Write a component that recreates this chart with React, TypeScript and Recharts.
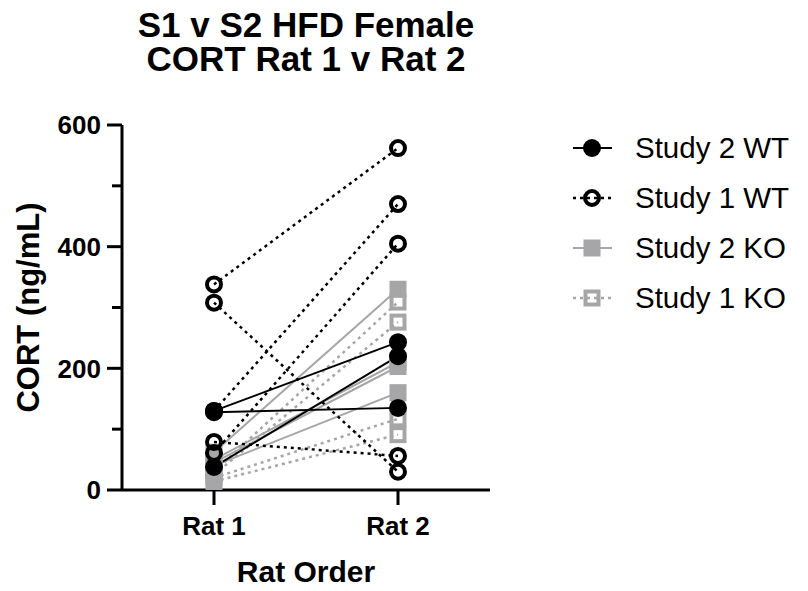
import React from "react";
import { Label, Line, LineChart, XAxis, YAxis } from "recharts";

// values (ng/mL)
const categories = ["Rat 1", "Rat 2"];

const study2WtRat1 = [130, 128, 38];
const study2WtRat2 = [243, 135, 220];

const study1WtRat1 = [338, 308, 130, 79, 61];
const study1WtRat2 = [562, 30, 470, 56, 405];

const study2KoRat1 = [62, 50, 45, 40];
const study2KoRat2 = [330, 210, 203, 160];

const study1KoRat1 = [30, 25, 20, 14];
const study1KoRat2 = [309, 276, 117, 91];

const yTicks = [0, 100, 200, 300, 400, 500, 600];

const GRAY = "#a6a6a8";
const FONT = "'Liberation Sans', Arial, Helvetica, sans-serif";

type Kind = "filledCircle" | "openCircle" | "filledSquare" | "openSquare";

type Group = {
  key: string;
  label: string;
  rat1: number[];
  rat2: number[];
  color: string;
  dash?: string;
  width: number;
  kind: Kind;
};

// draw order = z order (Study 2 WT ends on top)
const groups: Group[] = [
  { key: "s1ko", label: "Study 1 KO", rat1: study1KoRat1, rat2: study1KoRat2, color: GRAY, dash: "3 4", width: 2.5, kind: "openSquare" },
  { key: "s2ko", label: "Study 2 KO", rat1: study2KoRat1, rat2: study2KoRat2, color: GRAY, width: 2, kind: "filledSquare" },
  { key: "s1wt", label: "Study 1 WT", rat1: study1WtRat1, rat2: study1WtRat2, color: "#000", dash: "3 4", width: 2.5, kind: "openCircle" },
  { key: "s2wt", label: "Study 2 WT", rat1: study2WtRat1, rat2: study2WtRat2, color: "#000", width: 2, kind: "filledCircle" },
];

const legendOrder = ["s2wt", "s1wt", "s2ko", "s1ko"];

const rows = categories.map((name, ci) => {
  const row: Record<string, string | number> = { name };
  groups.forEach((g) => {
    const vals = ci === 0 ? g.rat1 : g.rat2;
    vals.forEach((v, i) => {
      row[`${g.key}${i}`] = v;
    });
  });
  return row;
});

function Marker({ kind, cx, cy, color }: { kind: Kind; cx: number; cy: number; color: string }) {
  if (kind === "filledCircle") return <circle cx={cx} cy={cy} r={9} fill={color} />;
  if (kind === "openCircle")
    return <circle cx={cx} cy={cy} r={7} fill="none" stroke={color} strokeWidth={4} />;
  if (kind === "filledSquare")
    return <rect x={cx - 8.5} y={cy - 8.5} width={17} height={17} fill={color} />;
  return (
    <rect x={cx - 6.5} y={cy - 6.5} width={13} height={13} fill="none" stroke={color} strokeWidth={4} />
  );
}

function YTick(props: any) {
  const { x, y, payload } = props;
  const major = payload.value % 200 === 0;
  const len = major ? 15 : 10;
  return (
    <g>
      <line x1={x - len} x2={x} y1={y} y2={y} stroke="#000" strokeWidth={3} />
      {major && (
        <text x={x - 21} y={y} dy="0.36em" textAnchor="end" fontSize={26} fontWeight="bold" fill="#000">
          {payload.value}
        </text>
      )}
    </g>
  );
}

function LegendBox() {
  return (
    <svg
      width={808}
      height={591}
      style={{ position: "absolute", left: 0, top: 0, pointerEvents: "none", fontFamily: FONT }}
    >
      {legendOrder.map((k, i) => {
        const g = groups.find((gg) => gg.key === k)!;
        const y = 148 + i * 50;
        return (
          <g key={k}>
            <line x1={573} x2={612} y1={y} y2={y} stroke={g.color} strokeWidth={g.width} strokeDasharray={g.dash} />
            <Marker kind={g.kind} cx={592} cy={y} color={g.color} />
            <text x={635} y={y + 10} fontSize={29.5} fill="#000">
              {g.label}
            </text>
          </g>
        );
      })}
    </svg>
  );
}

export default function App() {
  return (
    <div style={{ position: "absolute", left: 0, top: 0, width: 808, height: 591, background: "#fff", fontFamily: FONT }}>
      <div
        style={{
          position: "absolute",
          left: 0,
          top: 8,
          width: 612,
          textAlign: "center",
          fontSize: 35,
          lineHeight: "34px",
          fontWeight: "bold",
          color: "#000",
        }}
      >
        S1 v S2 HFD Female
        <br />
        CORT Rat 1 v Rat 2
      </div>
      <LineChart width={808} height={591} data={rows} margin={{ top: 125, right: 318, bottom: 0, left: 0 }}>
        <XAxis
          dataKey="name"
          type="category"
          padding={{ left: 92, right: 92 }}
          height={101}
          axisLine={{ stroke: "#000", strokeWidth: 3 }}
          tickLine={{ stroke: "#000", strokeWidth: 3 }}
          tickSize={15}
          tickMargin={12}
          tick={{ fontSize: 26, fontWeight: "bold", fill: "#000" }}
        >
          <Label
            value="Rat Order"
            position="insideBottom"
            offset={9}
            style={{ fontSize: 30, fontWeight: "bold", fill: "#000" }}
          />
        </XAxis>
        <YAxis
          type="number"
          domain={[0, 600]}
          ticks={yTicks}
          width={122}
          axisLine={{ stroke: "#000", strokeWidth: 3 }}
          tickLine={false}
          tickSize={0}
          tickMargin={0}
          tick={<YTick />}
          interval={0}
        >
          <Label
            value="CORT (ng/mL)"
            angle={-90}
            position="insideLeft"
            offset={28}
            style={{ fontSize: 31, fontWeight: "bold", fill: "#000", textAnchor: "middle" }}
          />
        </YAxis>
        {groups.flatMap((g) =>
          g.rat1.map((_, i) => (
            <Line
              key={`${g.key}${i}`}
              dataKey={`${g.key}${i}`}
              stroke={g.color}
              strokeWidth={g.width}
              strokeDasharray={g.dash}
              isAnimationActive={false}
              activeDot={false}
              dot={(p: any) => <Marker key={`${g.key}${i}-${p.index}`} kind={g.kind} cx={p.cx} cy={p.cy} color={g.color} />}
            />
          ))
        )}
      </LineChart>
      <LegendBox />
    </div>
  );
}
